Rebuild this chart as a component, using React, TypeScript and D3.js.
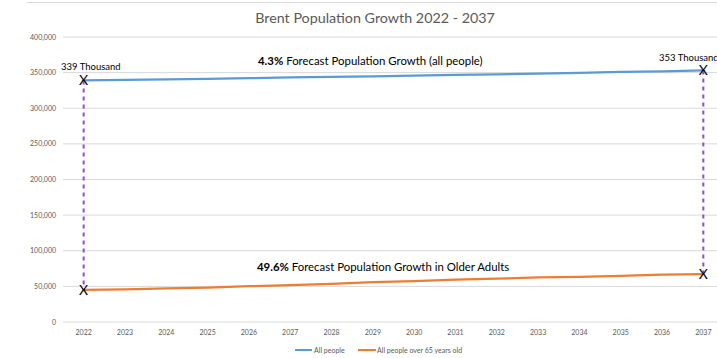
import React from "react";
import * as d3 from "d3";

const years = ["2022","2023","2024","2025","2026","2027","2028","2029","2030","2031","2032","2033","2034","2035","2036","2037"];
const allPeople = [339000, 339800, 340600, 341400, 342300, 343200, 344000, 344900, 345800, 346700, 347600, 348700, 349800, 351000, 351800, 353000];
const over65 = [45000, 45800, 47300, 48400, 50200, 51600, 53600, 55800, 57300, 59300, 60800, 62500, 63500, 64600, 66400, 67300];
const yTicks = [0, 50000, 100000, 150000, 200000, 250000, 300000, 350000, 400000];
const seriesNames = ["All people", "All people over 65 years old"];
const title = "Brent Population Growth 2022 - 2037";

export default function App() {
  const W = 717, H = 358;
  const left = 63, right = 724, top = 37, bottom = 322;
  const x = d3.scaleBand().domain(years).range([left, right]);
  const cx = (y: string) => (x(y) as number) + x.bandwidth() / 2;
  const y = d3.scaleLinear().domain([0, 400000]).range([bottom, top]);
  const line = d3.line<number>().x((_, i) => cx(years[i])).y(d => y(d));
  const fmt = d3.format(",");
  const font = "Lato, 'Open Sans', sans-serif";
  const first = years[0], last = years[years.length - 1];
  const n = years.length - 1;
  return (
    <svg width={W} height={H} style={{ position: "absolute", left: 0, top: 0, background: "#fff" }} fontFamily={font}>
      <line x1={27} x2={W} y1={2.5} y2={2.5} stroke="#d9d9d9" />
      <text x={375} y={23} textAnchor="middle" fontSize={14.3} fill="#595959">{title}</text>
      {yTicks.map(t => (
        <g key={t}>
          <line x1={left} x2={right} y1={y(t)} y2={y(t)} stroke="#d9d9d9" strokeWidth={1} />
          <text x={56} y={y(t) + 2.5} textAnchor="end" fontSize={7} fill="#595959">{fmt(t)}</text>
        </g>
      ))}
      {years.map(yr => (
        <text key={yr} x={cx(yr)} y={335} textAnchor="middle" fontSize={7} fill="#595959">{yr}</text>
      ))}
      <line x1={cx(first)} x2={cx(first)} y1={y(allPeople[0])} y2={y(over65[0])} stroke="#8e4fc4" strokeWidth={2} strokeDasharray="4,4" />
      <line x1={cx(last)} x2={cx(last)} y1={y(allPeople[n])} y2={y(over65[n])} stroke="#8e4fc4" strokeWidth={2} strokeDasharray="4,4" />
      <path d={line(allPeople) || ""} fill="none" stroke="#5b9bd5" strokeWidth={2.25} strokeLinecap="round" />
      <path d={line(over65) || ""} fill="none" stroke="#ed7d31" strokeWidth={2.25} strokeLinecap="round" />
      {[[first, allPeople[0]], [last, allPeople[n]], [first, over65[0]], [last, over65[n]]].map(([yr, v], i) => (
        <text key={i} x={cx(yr as string)} y={y(v as number) + 5} textAnchor="middle" fontSize={14} fill="#000">X</text>
      ))}
      <text x={61} y={69.5} fontSize={9.5} fill="#000">339 Thousand</text>
      <text x={659} y={60.5} fontSize={9.5} fill="#000">353 Thousand</text>
      <text x={258} y={64.5} fontSize={11.4} fill="#000"><tspan fontWeight="bold">4.3%</tspan> Forecast Population Growth (all people)</text>
      <text x={257} y={270.5} fontSize={11.4} fill="#000"><tspan fontWeight="bold">49.6%</tspan> Forecast Population Growth in Older Adults</text>
      <line x1={295} x2={312} y1={350} y2={350} stroke="#5b9bd5" strokeWidth={2} />
      <text x={314} y={352.5} fontSize={7} fill="#595959">{seriesNames[0]}</text>
      <line x1={358} x2={376} y1={350} y2={350} stroke="#ed7d31" strokeWidth={2} />
      <text x={377} y={352.5} fontSize={7} fill="#595959">{seriesNames[1]}</text>
    </svg>
  );
}
